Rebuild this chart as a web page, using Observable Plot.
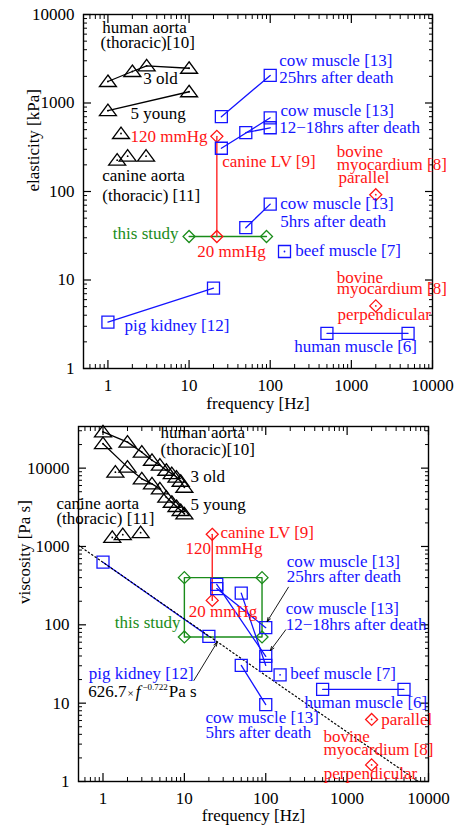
<!DOCTYPE html>
<html>
<head>
<meta charset="utf-8">
<script src="https://cdn.jsdelivr.net/npm/d3@7"></script>
<script src="https://cdn.jsdelivr.net/npm/@observablehq/plot@0.6"></script>
<style>
  body { margin: 0; background: #fff; }
  #chart svg { display: block; }
</style>
</head>
<body>
<div id="chart"></div>
<script>
// ---------- colours ----------
const BLUE = "#1414ff", RED = "#ff1414", GREEN = "#1a8c1a", BLACK = "#000";

// ---------- axis ticks ----------
const freqTicks = [1, 10, 100, 1000, 10000];
const elasticityTicks = [1, 10, 100, 1000, 10000];
const viscosityTicks = [1, 10, 100, 1000, 10000];

// ---------- elasticity [kPa] ----------
const aortaOldFreqE = [1, 2, 3, 10];
const aortaOldE = [1750, 2270, 2630, 2470];
const aortaYoungFreqE = [1, 10];
const aortaYoungE = [820, 1340];
const canineAortaFreqE = [1.3, 1.45, 1.75, 2.95];
const canineAortaE = [226, 452, 251, 251];
const canineLVFreqE = [22, 22];
const canineLVE = [31, 420];
const studyFreqE = [10, 90];
const studyE = [31, 31];
const cow25FreqE = [25, 100];
const cow25E = [700, 2050];
const cow12FreqE = [25, 100];
const cow12E = [308, 680];
const cow18FreqE = [50, 100];
const cow18E = [462, 525];
const cow5FreqE = [50, 100];
const cow5E = [39, 72];
const beefFreqE = [150];
const beefE = [21];
const bovineParFreqE = [2000];
const bovineParE = [92];
const bovinePerpFreqE = [2000];
const bovinePerpE = [5.1];
const humanMuscleFreqE = [500, 5000];
const humanMuscleE = [2.5, 2.5];
const pigKidneyFreqE = [1, 20];
const pigKidneyE = [3.35, 8.1];

// ---------- viscosity [Pa s] ----------
const aortaOldFreqV = [1, 2, 3, 4, 5, 6, 7, 8, 9, 10];
const aortaOldV = [29000, 21500, 16000, 12600, 10900, 9400, 8500, 7700, 6800, 5700];
const aortaYoungFreqV = [1, 2, 3, 4, 5, 6, 7, 8, 9, 10];
const aortaYoungV = [20500, 10300, 7300, 6300, 5450, 4260, 3670, 3240, 2880, 2610];
const aortaSingleFreqV = [1.42];
const aortaSingleV = [8870];
const canineAortaFreqV = [1.3, 1.75, 2.9];
const canineAortaV = [1306, 1415, 1500];
const canineLVFreqV = [22, 22];
const canineLVV = [205, 1430];
const studyBoxFreq = [10, 90, 90, 10, 10];
const studyBoxV = [400, 400, 70, 70, 400];
const cow25FreqV = [25, 100];
const cow25V = [290, 92];
const cow12FreqV = [25, 100];
const cow12V = [328, 39.5];
const cow18FreqV = [50, 100];
const cow18V = [254, 30.3];
const cow5FreqV = [50, 100];
const cow5V = [30.3, 9.6];
const beefFreqV = [150];
const beefV = [23];
const bovineParFreqV = [2000];
const bovineParV = [6.2];
const bovinePerpFreqV = [2000];
const bovinePerpV = [1.63];
const humanMuscleFreqV = [500, 5000];
const humanMuscleV = [15, 15];
const pigKidneyFreqV = [1, 20];
const pigKidneyV = [630, 71];

// power-law fit of the pig kidney viscosity: 626.7 x f^-0.722 Pa s
const fitCoef = 626.7, fitExp = -0.722;

// ---------- annotations (position in data units) ----------
const labelsE = [
  {t: "human aorta", f: 0.851, v: 6100, c: BLACK},
  {t: "(thoracic)[10]", f: 0.811, v: 4130, c: BLACK},
  {t: "3 old", f: 2.72, v: 1620, c: BLACK},
  {t: "5 young", f: 1.9, v: 651, c: BLACK},
  {t: "120 mmHg", f: 1.9, v: 361, c: RED},
  {t: "canine aorta", f: 0.851, v: 133, c: BLACK},
  {t: "(thoracic) [11]", f: 0.851, v: 79, c: BLACK},
  {t: "canine LV [9]", f: 25.6, v: 188, c: RED},
  {t: "cow muscle [13]", f: 129, v: 2585, c: BLUE},
  {t: "25hrs after death", f: 129, v: 1661, c: BLUE},
  {t: "cow muscle [13]", f: 134, v: 722, c: BLUE},
  {t: "12\u221218hrs after death", f: 129, v: 456, c: BLUE},
  {t: "bovine", f: 662, v: 244, c: RED},
  {t: "myocardium [8]", f: 662, v: 173, c: RED},
  {t: "parallel", f: 695, v: 124, c: RED},
  {t: "cow muscle [13]", f: 133, v: 63.7, c: BLUE},
  {t: "5hrs after death", f: 133, v: 40.2, c: BLUE},
  {t: "this study", f: 7.41, v: 29.2, c: GREEN, end: true},
  {t: "20 mmHg", f: 12.6, v: 18.1, c: RED},
  {t: "beef muscle [7]", f: 203, v: 18.9, c: BLUE},
  {t: "bovine", f: 662, v: 9.2, c: RED},
  {t: "myocardium [8]", f: 662, v: 6.86, c: RED},
  {t: "perpendicular", f: 675, v: 3.49, c: RED},
  {t: "human muscle [6]", f: 198, v: 1.53, c: BLUE},
  {t: "pig kidney [12]", f: 1.6, v: 2.62, c: BLUE}
];

const labelsV = [
  {t: "human aorta", f: 5.09, v: 23900, c: BLACK},
  {t: "(thoracic)[10]", f: 5.09, v: 14500, c: BLACK},
  {t: "3 old", f: 11.9, v: 6560, c: BLACK},
  {t: "5 young", f: 11.9, v: 2880, c: BLACK},
  {t: "canine aorta", f: 0.268, v: 3053, c: BLACK},
  {t: "(thoracic) [11]", f: 0.268, v: 1948, c: BLACK},
  {t: "canine LV [9]", f: 27.8, v: 1265, c: RED},
  {t: "120 mmHg", f: 10.3, v: 806, c: RED},
  {t: "cow muscle [13]", f: 181, v: 555, c: BLUE},
  {t: "25hrs after death", f: 181, v: 350, c: BLUE},
  {t: "cow muscle [13]", f: 176, v: 139, c: BLUE},
  {t: "12\u221218hrs after death", f: 176, v: 87.1, c: BLUE},
  {t: "20 mmHg", f: 11.3, v: 124, c: RED},
  {t: "this study", f: 8.96, v: 89.8, c: GREEN, end: true},
  {t: "beef muscle [7]", f: 200, v: 20.6, c: BLUE},
  {t: "pig kidney [12]", f: 0.669, v: 20.6, c: BLUE},
  {t: "human muscle [6]", f: 299, v: 8.55, c: BLUE},
  {t: "cow muscle [13]", f: 18.2, v: 5.66, c: BLUE},
  {t: "5hrs after death", f: 18.2, v: 3.54, c: BLUE},
  {t: "parallel", f: 2621, v: 5.34, c: RED},
  {t: "bovine", f: 512, v: 3.24, c: RED},
  {t: "myocardium [8]", f: 512, v: 2.15, c: RED},
  {t: "perpendicular", f: 515, v: 1.09, c: RED}
];
const fitLabelPos = {f: 0.669, v: 11.8};

const arrowsV = [
  {f1: 13.1, v1: 19.5, f2: 25.3, v2: 60},
  {f1: 190, v1: 302, f2: 104, v2: 110},
  {f1: 176, v1: 86.4, f2: 114, v2: 47}
];

// ---------- helpers ----------
const pts = (fs, vs) => fs.map((f, i) => ({f, v: vs[i]}));

const triangle = {draw(ctx) { ctx.moveTo(0, -6.5); ctx.lineTo(8.5, 5); ctx.lineTo(-8.5, 5); ctx.closePath(); }};
const square = {draw(ctx) { ctx.rect(-6, -6, 12, 12); }};
const diamond = {draw(ctx) { ctx.moveTo(0, -6); ctx.lineTo(6, 0); ctx.lineTo(0, 6); ctx.lineTo(-6, 0); ctx.closePath(); }};

function markers(data, symbol, color, centreDot = false) {
  const m = [Plot.dot(data, {x: "f", y: "v", symbol, stroke: color, fill: "none", strokeWidth: 1.3})];
  if (centreDot) m.push(Plot.dot(data, {x: "f", y: "v", r: 0.9, fill: color, stroke: "none"}));
  return m;
}
function series(data, symbol, color, opts = {}) {
  const m = [];
  if (data.length > 1 && opts.line !== false) m.push(Plot.line(data, {x: "f", y: "v", stroke: color, strokeWidth: 1.3}));
  if (symbol) m.push(...markers(data, symbol, color, opts.dot));
  return m;
}

function minorLog(lo, hi) {
  const out = [];
  for (let e = Math.floor(Math.log10(lo)); e <= Math.ceil(Math.log10(hi)); e++)
    for (let k = 2; k <= 9; k++) { const v = k * 10 ** e; if (v > lo && v < hi) out.push(v); }
  return out;
}

function frameAxes(xDomain, yDomain, xLabels, yLabels, xTitle, yTitle, yTitleDx, xTitleDy) {
  const xMinor = minorLog(...xDomain), yMinor = minorLog(...yDomain);
  const fmt = d => String(d);
  return [
    Plot.frame({stroke: BLACK, strokeWidth: 1.4}),
    Plot.axisX({anchor: "bottom", ticks: xLabels, tickSize: -8, fill: "none", strokeWidth: 1.2, label: null}),
    Plot.axisX({anchor: "top", ticks: xLabels, tickSize: -8, fill: "none", strokeWidth: 1.2, label: null}),
    Plot.axisX({anchor: "bottom", ticks: xMinor, tickSize: -4, fill: "none", label: null}),
    Plot.axisX({anchor: "top", ticks: xMinor, tickSize: -4, fill: "none", label: null}),
    Plot.axisY({anchor: "left", ticks: yLabels, tickSize: -8, fill: "none", strokeWidth: 1.2, label: null}),
    Plot.axisY({anchor: "right", ticks: yLabels, tickSize: -8, fill: "none", strokeWidth: 1.2, label: null}),
    Plot.axisY({anchor: "left", ticks: yMinor, tickSize: -4, fill: "none", label: null}),
    Plot.axisY({anchor: "right", ticks: yMinor, tickSize: -4, fill: "none", label: null}),
    Plot.axisX({anchor: "bottom", ticks: xLabels, tickSize: 0, tickPadding: 10, tickFormat: fmt, label: null}),
    Plot.axisY({anchor: "left", ticks: yLabels, tickSize: 0, tickPadding: 9, tickFormat: fmt, label: null}),
    Plot.text([xTitle], {frameAnchor: "bottom", dy: xTitleDy, text: d => d, fill: BLACK}),
    Plot.text([yTitle], {frameAnchor: "left", dx: yTitleDx, rotate: -90, text: d => d, fill: BLACK})
  ];
}

function annotations(labels) {
  return [
    Plot.text(labels.filter(d => !d.end), {x: "f", y: "v", text: "t", fill: "c", textAnchor: "start", lineAnchor: "bottom"}),
    Plot.text(labels.filter(d => d.end), {x: "f", y: "v", text: "t", fill: "c", textAnchor: "end", lineAnchor: "bottom"})
  ];
}

const style = {fontFamily: "'Liberation Serif', 'Times New Roman', serif", fontSize: "17px", background: "#fff", color: "#000"};
const xDomain = [0.5, 10000];

// ---------- elasticity panel ----------
const eDomain = [1, 10000];
const elasticityPlot = Plot.plot({
  width: 456, height: 415,
  marginLeft: 83, marginRight: 24, marginTop: 14, marginBottom: 47,
  style,
  x: {type: "log", domain: xDomain},
  y: {type: "log", domain: eDomain},
  marks: [
    ...frameAxes(xDomain, eDomain, freqTicks, elasticityTicks, "frequency [Hz]", "elasticity [kPa]", -50, 40),
    ...series(pts(studyFreqE, studyE), diamond, GREEN),
    ...series(pts(canineLVFreqE, canineLVE), diamond, RED),
    ...series(pts(aortaOldFreqE, aortaOldE), triangle, BLACK, {dot: true}),
    ...series(pts(aortaYoungFreqE, aortaYoungE), triangle, BLACK, {dot: true}),
    ...series(pts(canineAortaFreqE, canineAortaE), triangle, BLACK, {dot: true, line: false}),
    ...series(pts(cow25FreqE, cow25E), square, BLUE),
    ...series(pts(cow12FreqE, cow12E), square, BLUE),
    ...series(pts(cow18FreqE, cow18E), square, BLUE),
    ...series(pts(cow5FreqE, cow5E), square, BLUE),
    ...series(pts(beefFreqE, beefE), square, BLUE, {dot: true}),
    ...series(pts(humanMuscleFreqE, humanMuscleE), square, BLUE),
    ...series(pts(pigKidneyFreqE, pigKidneyE), square, BLUE),
    ...series(pts(bovineParFreqE, bovineParE), diamond, RED, {dot: true}),
    ...series(pts(bovinePerpFreqE, bovinePerpE), diamond, RED, {dot: true}),
    ...annotations(labelsE)
  ]
});

// ---------- viscosity panel ----------
const vDomain = [1, 34000];
const fitEnd = fitCoef ** (-1 / fitExp); // frequency where the fit reaches 1 Pa s
const fitLine = [xDomain[0], fitEnd].map(f => ({f, v: fitCoef * f ** fitExp}));

const viscosityPlot = Plot.plot({
  width: 456, height: 414,
  marginLeft: 78, marginRight: 28, marginTop: 11, marginBottom: 48,
  style,
  x: {type: "log", domain: xDomain},
  y: {type: "log", domain: vDomain},
  marks: [
    ...frameAxes(xDomain, vDomain, freqTicks, viscosityTicks, "frequency [Hz]", "viscosity [Pa s]", -54, 39),
    Plot.line(pts(studyBoxFreq, studyBoxV), {x: "f", y: "v", stroke: GREEN, strokeWidth: 1.4}),
    ...markers(pts(studyBoxFreq.slice(0, 4), studyBoxV.slice(0, 4)), diamond, GREEN),
    ...series(pts(canineLVFreqV, canineLVV), diamond, RED),
    ...series(pts(aortaOldFreqV, aortaOldV), triangle, BLACK, {dot: true}),
    ...series(pts(aortaYoungFreqV, aortaYoungV), triangle, BLACK, {dot: true}),
    ...series(pts(aortaSingleFreqV, aortaSingleV), triangle, BLACK, {dot: true}),
    ...series(pts(canineAortaFreqV, canineAortaV), triangle, BLACK, {dot: true, line: false}),
    ...series(pts(pigKidneyFreqV, pigKidneyV), square, BLUE),
    Plot.line(fitLine, {x: "f", y: "v", stroke: BLACK, strokeWidth: 1.2, strokeDasharray: "1.4,2.6"}),
    ...series(pts(cow25FreqV, cow25V), square, BLUE),
    ...series(pts(cow12FreqV, cow12V), square, BLUE),
    ...series(pts(cow18FreqV, cow18V), square, BLUE),
    ...series(pts(cow5FreqV, cow5V), square, BLUE),
    ...series(pts(beefFreqV, beefV), square, BLUE, {dot: true}),
    ...series(pts(humanMuscleFreqV, humanMuscleV), square, BLUE),
    ...series(pts(bovineParFreqV, bovineParV), diamond, RED, {dot: true}),
    ...series(pts(bovinePerpFreqV, bovinePerpV), diamond, RED, {dot: true}),
    Plot.arrow(arrowsV, {x1: "f1", y1: "v1", x2: "f2", y2: "v2", stroke: BLACK, strokeWidth: 0.9, headLength: 7, headAngle: 40}),
    ...annotations(labelsV)
  ]
});

// fit formula with italic f and a superscript exponent
{
  const sx = viscosityPlot.scale("x"), sy = viscosityPlot.scale("y");
  const t = d3.select(viscosityPlot).append("text")
    .attr("x", sx.apply(fitLabelPos.f)).attr("y", sy.apply(fitLabelPos.v))
    .attr("text-anchor", "start")
    .attr("fill", BLACK);
  t.append("tspan").text(`${fitCoef}`);
  t.append("tspan").attr("font-size", 11).attr("dx", 1).text("\u00d7");
  t.append("tspan").attr("font-style", "italic").attr("dx", 2).text("f");
  t.append("tspan").attr("font-size", 9).attr("dy", -7).attr("dx", 2).text(`\u2212${Math.abs(fitExp)}`);
  t.append("tspan").attr("dy", 7).attr("dx", 1).text("Pa s");
}

document.getElementById("chart").append(elasticityPlot, viscosityPlot);
</script>
</body>
</html>
